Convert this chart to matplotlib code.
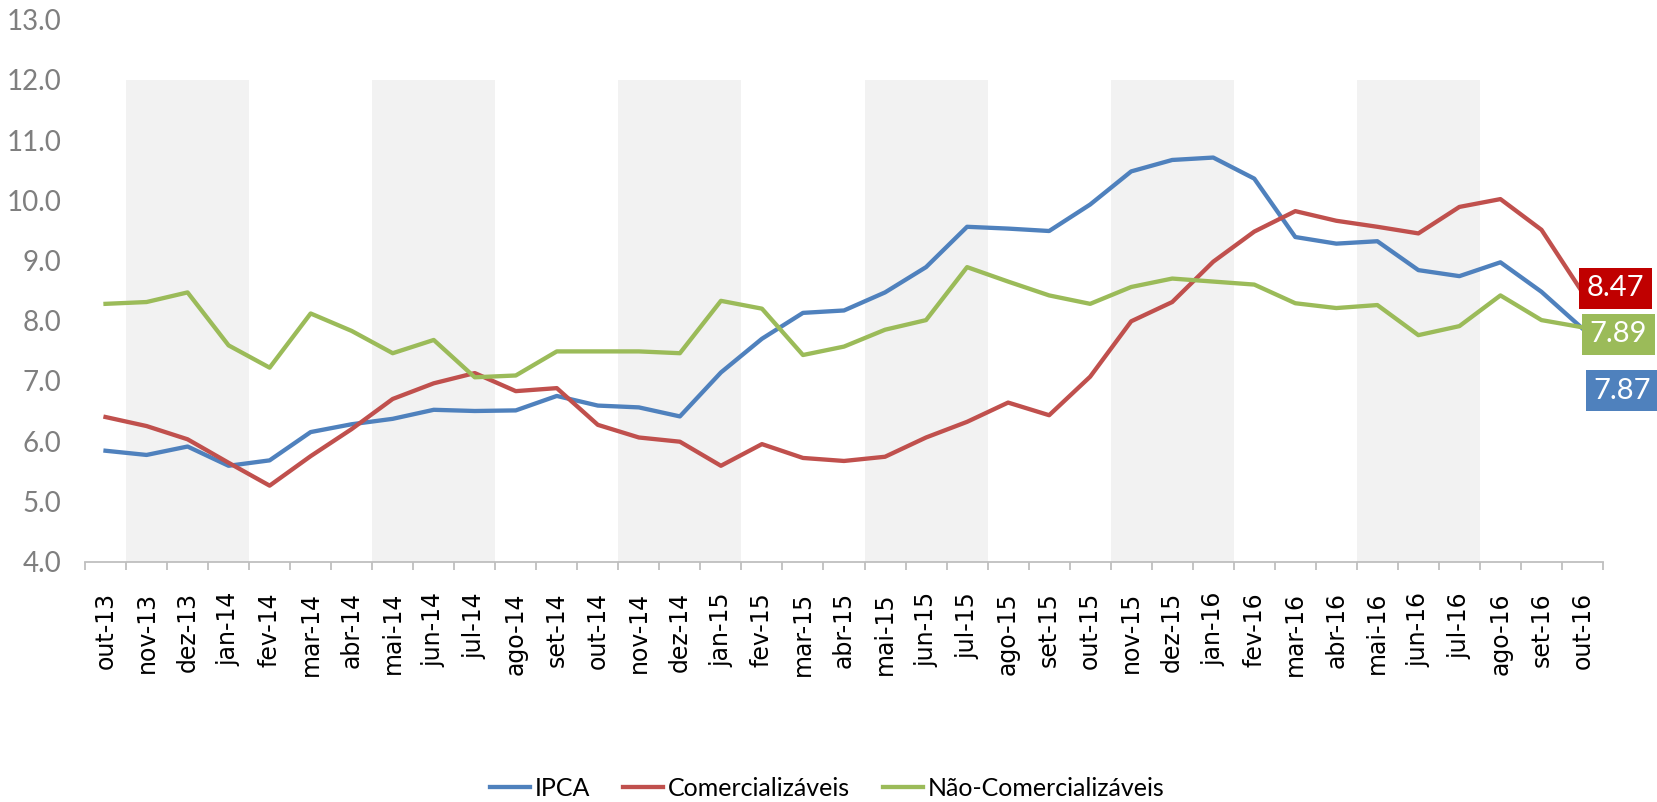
import numpy as np
import matplotlib
matplotlib.use("Agg")
from matplotlib import pyplot as plt

# meses (out-13 a out-16)
meses = ['out-13', 'nov-13', 'dez-13', 'jan-14', 'fev-14', 'mar-14', 'abr-14', 'mai-14',
         'jun-14', 'jul-14', 'ago-14', 'set-14', 'out-14', 'nov-14', 'dez-14', 'jan-15',
         'fev-15', 'mar-15', 'abr-15', 'mai-15', 'jun-15', 'jul-15', 'ago-15', 'set-15',
         'out-15', 'nov-15', 'dez-15', 'jan-16', 'fev-16', 'mar-16', 'abr-16', 'mai-16',
         'jun-16', 'jul-16', 'ago-16', 'set-16', 'out-16']

ipca = [5.84, 5.77, 5.91, 5.59, 5.68, 6.15, 6.28, 6.37, 6.52, 6.50, 6.51, 6.75, 6.59,
        6.56, 6.41, 7.14, 7.70, 8.13, 8.17, 8.47, 8.89, 9.56, 9.53, 9.49, 9.93, 10.48,
        10.67, 10.71, 10.36, 9.39, 9.28, 9.32, 8.84, 8.74, 8.97, 8.48, 7.87]

comerc = [6.40, 6.25, 6.03, 5.64, 5.26, 5.75, 6.20, 6.70, 6.96, 7.13, 6.83, 6.88, 6.27,
          6.06, 5.99, 5.59, 5.95, 5.72, 5.67, 5.74, 6.06, 6.32, 6.64, 6.43, 7.07, 7.99,
          8.31, 8.98, 9.48, 9.82, 9.66, 9.56, 9.45, 9.89, 10.02, 9.51, 8.47]

nao_comerc = [8.28, 8.31, 8.47, 7.59, 7.22, 8.12, 7.83, 7.46, 7.68, 7.06, 7.09, 7.49, 7.49,
              7.49, 7.46, 8.33, 8.20, 7.43, 7.57, 7.85, 8.01, 8.89, 8.65, 8.42, 8.28, 8.56,
              8.70, 8.65, 8.60, 8.29, 8.21, 8.26, 7.76, 7.91, 8.42, 8.01, 7.89]

# faixas cinzas (serie de colunas com valor 12)
faixa = [0, 12, 12, 12, 0, 0, 0, 12, 12, 12, 0, 0, 0, 12, 12, 12, 0, 0, 0, 12, 12, 12,
         0, 0, 0, 12, 12, 12, 0, 0, 0, 12, 12, 12, 0, 0, 0]

azul = '#4F81BD'
vermelho = '#C0504D'
verde = '#9BBB59'

x = np.arange(len(meses))

fig = plt.figure(figsize=(16.58, 8.02), dpi=100)
ax = fig.add_axes([85/1658, 1 - 561.5/802, (1603 - 85)/1658, (561.5 - 19.7)/802])

ax.bar(x, faixa, width=1.0, color='#F2F2F2', zorder=0)
ax.plot(x, ipca, color=azul, lw=3.1, label='IPCA', zorder=3)
ax.plot(x, comerc, color=vermelho, lw=3.1, label='Comercializáveis', zorder=3)
ax.plot(x, nao_comerc, color=verde, lw=3.1, label='Não-Comercializáveis', zorder=3)

ax.set_xlim(-0.5, len(meses) - 0.5)
ax.set_ylim(4, 13)
ax.set_yticks(np.arange(4, 13.5, 1.0))
ax.set_yticklabels([f'{v:.1f}' for v in np.arange(4, 13.5, 1.0)],
                   fontfamily='Lato', fontsize=20, color='#7F7F7F')
ax.tick_params(axis='y', length=0, pad=17)

ax.set_xticks(x)
ax.set_xticklabels(meses, rotation=90, fontfamily='DejaVu Sans', fontsize=17)
ax.set_xticks(np.arange(-0.5, len(meses)), minor=True)
ax.tick_params(axis='x', which='major', length=0, pad=22)
ax.tick_params(axis='x', which='minor', length=6, width=1.3, color='#BFBFBF', direction='out')

for s in ['top', 'right', 'left']:
    ax.spines[s].set_visible(False)
ax.spines['bottom'].set_color('#BFBFBF')
ax.spines['bottom'].set_linewidth(1.3)

# rotulos do ultimo ponto
ultimo = len(meses) - 1
rotulos = [(comerc[-1], '#C00000', (33, 4)),
           (nao_comerc[-1], verde, (36, -7)),
           (ipca[-1], azul, (40, -62))]
for val, cor, off in rotulos:
    ax.annotate(f'{val:.2f}', xy=(ultimo, val), xytext=off, textcoords='offset pixels',
                ha='center', va='center', color='white', fontsize=21, fontfamily='Lato',
                bbox=dict(boxstyle='square,pad=0.25', fc=cor, ec='none'),
                annotation_clip=False, zorder=5)

fig.legend(loc='center', bbox_to_anchor=(0.499, 1 - 788/802), ncol=3, frameon=False,
           prop={'family': 'Lato', 'size': 18}, handlelength=1.6, handletextpad=0.2,
           columnspacing=1.3)

fig.savefig('out.png', dpi=100)
